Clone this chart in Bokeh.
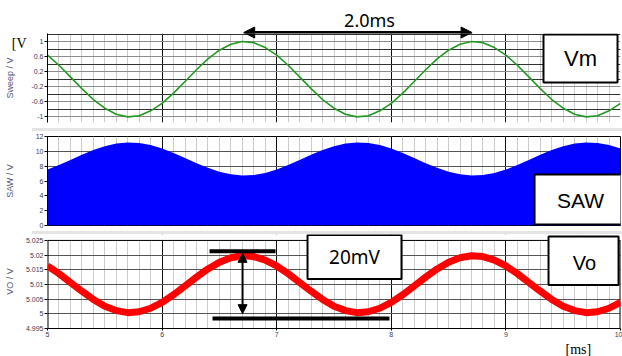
from bokeh.plotting import figure
from bokeh.layouts import column
from bokeh.models import (FixedTicker, CustomJSTickFormatter, Label, Arrow, NormalHead,
                          BoxAnnotation, Range1d, ColumnDataSource, Span, Title, Div,
                          LinearAxis)
from bokeh.embed import file_html
from bokeh.resources import INLINE

# ---------------- data ----------------
time_ms = [5.0, 5.1, 5.2, 5.3, 5.4, 5.5, 5.6, 5.7, 5.8, 5.9,
           6.0, 6.1, 6.2, 6.3, 6.4, 6.5, 6.6, 6.7, 6.8, 6.9,
           7.0, 7.1, 7.2, 7.3, 7.4, 7.5, 7.6, 7.7, 7.8, 7.9,
           8.0, 8.1, 8.2, 8.3, 8.4, 8.5, 8.6, 8.7, 8.8, 8.9,
           9.0, 9.1, 9.2, 9.3, 9.4, 9.5, 9.6, 9.7, 9.8, 9.9,
           10.0]

sweep_v = [0.64, 0.37, 0.06, -0.25, -0.54, -0.77, -0.93, -1.00, -0.97, -0.84,
           -0.64, -0.37, -0.06, 0.25, 0.54, 0.77, 0.93, 1.00, 0.97, 0.84,
           0.64, 0.37, 0.06, -0.25, -0.54, -0.77, -0.93, -1.00, -0.97, -0.84,
           -0.64, -0.37, -0.06, 0.25, 0.54, 0.77, 0.93, 1.00, 0.97, 0.84,
           0.64, 0.37, 0.06, -0.25, -0.54, -0.77, -0.93, -1.00, -0.97, -0.84,
           -0.64]

saw_v = [7.55, 8.15, 8.83, 9.53, 10.17, 10.69, 11.04, 11.20, 11.13, 10.85,
         10.39, 9.79, 9.11, 8.41, 7.77, 7.25, 6.90, 6.74, 6.81, 7.09,
         7.55, 8.15, 8.83, 9.53, 10.17, 10.69, 11.04, 11.20, 11.13, 10.85,
         10.39, 9.79, 9.11, 8.41, 7.77, 7.25, 6.90, 6.74, 6.81, 7.09,
         7.55, 8.15, 8.83, 9.53, 10.17, 10.69, 11.04, 11.20, 11.13, 10.85,
         10.39]

vo_v = [5.0163, 5.0137, 5.0107, 5.0077, 5.0049, 5.0026, 5.0011, 5.0004, 5.0007, 5.0019,
        5.0039, 5.0065, 5.0095, 5.0125, 5.0153, 5.0176, 5.0191, 5.0198, 5.0195, 5.0183,
        5.0163, 5.0137, 5.0107, 5.0077, 5.0049, 5.0026, 5.0011, 5.0004, 5.0007, 5.0019,
        5.0039, 5.0065, 5.0095, 5.0125, 5.0153, 5.0176, 5.0191, 5.0198, 5.0195, 5.0183,
        5.0163, 5.0137, 5.0107, 5.0077, 5.0049, 5.0026, 5.0011, 5.0004, 5.0007, 5.0019,
        5.0039]

x_ticks = [5, 6, 7, 8, 9, 10]
sweep_ticks = [-1, -0.6, -0.2, 0.2, 0.6, 1]
sweep_grid_minor = [-0.8, -0.4, 0, 0.4, 0.8, 1.2]
saw_ticks = [0, 2, 4, 6, 8, 10, 12]
vo_ticks = [4.995, 5.0, 5.005, 5.01, 5.015, 5.02, 5.025]

src = ColumnDataSource(data=dict(t=time_ms, sweep=sweep_v, saw=saw_v, vo=vo_v))

x_minor = [round(5 + 0.1 * i, 1) for i in range(51)]
FMT = "return String(tick)"
TICK_FONT = "Liberation Sans"
TICK_COLOR = "#3a3a55"
AXLAB_COLOR = "#5a5a78"
W = 622
BAND = "#e4e4e4"


def base_fig(h, y0, y1, top, bottom):
    p = figure(width=W, height=h, x_range=Range1d(5, 10), y_range=Range1d(y0, y1),
               output_backend="svg", toolbar_location=None,
               min_border_left=47, min_border_right=2,
               min_border_top=top, min_border_bottom=bottom)
    p.background_fill_color = "white"
    p.border_fill_color = "white"
    return p


def panel(h, top, bottom, y0, y1, yticks, yminor, show_x, ylabel, lab_standoff):
    p = base_fig(h, y0, y1, top, bottom)
    p.outline_line_color = "black"
    p.outline_line_width = 1
    p.outline_line_alpha = 1

    p.xaxis.ticker = FixedTicker(ticks=x_ticks, minor_ticks=x_minor)
    p.yaxis.ticker = FixedTicker(ticks=yticks, minor_ticks=yminor)
    p.xaxis.formatter = CustomJSTickFormatter(code=FMT)
    p.yaxis.formatter = CustomJSTickFormatter(code=FMT)
    for ax in (p.xaxis, p.yaxis):
        ax.axis_line_color = "black"
        ax.major_tick_in = 0
        ax.major_tick_out = 3
        ax.minor_tick_in = 0
        ax.minor_tick_out = 0
        ax.major_tick_line_color = "black"
        ax.major_label_text_font = TICK_FONT
        ax.major_label_text_font_size = "7px"
        ax.major_label_text_color = TICK_COLOR
        ax.major_label_standoff = 1
    p.xaxis.major_tick_out = 2
    p.xaxis.visible = show_x

    p.yaxis.axis_label = ylabel
    p.yaxis.axis_label_text_font = "Liberation Sans"
    p.yaxis.axis_label_text_font_size = "9px"
    p.yaxis.axis_label_text_font_style = "normal"
    p.yaxis.axis_label_text_color = AXLAB_COLOR
    p.yaxis.axis_label_standoff = lab_standoff

    p.xgrid.grid_line_color = "#111111"
    p.xgrid.minor_grid_line_color = "#cccccc"
    p.ygrid.grid_line_color = "#555555"
    p.ygrid.minor_grid_line_color = "#999999"
    return p


def box(p, left, right, top, bottom, fill="white", line="black", lw=2):
    p.add_layout(BoxAnnotation(left=left, right=right, top=top, bottom=bottom,
                               fill_color=fill, fill_alpha=1,
                               line_color=line, line_width=lw, line_alpha=1))


def text(p, x, y, s, size, font="Liberation Sans"):
    p.add_layout(Label(x=x, y=y, text=s, text_font=font, text_font_size=size,
                       text_color="black", text_align="center", text_baseline="middle"))


def dbl_arrow(p, x0, y0, x1, y1, size, lw):
    p.add_layout(Arrow(start=NormalHead(size=size, fill_color="black", line_color="black"),
                       end=NormalHead(size=size, fill_color="black", line_color="black"),
                       x_start=x0, y_start=y0, x_end=x1, y_end=y1,
                       line_width=lw, line_color="black"))


def band():
    return Div(text="", width=W - 32, height=3, margin=(0, 0, 0, 32),
               styles={"background-color": BAND})


# ---------------- strip above the first panel (y in px from the top) ----------------
s0 = figure(width=W, height=33, x_range=Range1d(5, 10), y_range=Range1d(33, 0),
            output_backend="svg", toolbar_location=None,
            x_axis_location=None, y_axis_location=None,
            min_border_left=47, min_border_right=2, min_border_top=0, min_border_bottom=0)
s0.outline_line_color = None
s0.background_fill_color = "white"
s0.border_fill_color = "white"
s0.grid.visible = False
text(s0, 7.81, 19.5, "2.0ms", "18px", font="Noto Sans")
dbl_arrow(s0, 6.712, 32, 8.705, 32, 11, 3)

# ---------------- panel 1: Sweep ----------------
P1_TOP = 1.2133
p1 = panel(95, 0, 6, -1.15, P1_TOP, sweep_ticks, sweep_grid_minor, False, "Sweep / V", 13)
p1.outline_line_color = None
p1.ygrid.grid_line_color = "#8c8c8c"
p1.ygrid.minor_grid_line_color = "#333333"
p1.line("t", "sweep", source=src, line_color="#229922", line_width=1.6)
dbl_arrow(p1, 6.712, 1.2399, 8.705, 1.2399, 11, 3)
box(p1, 9.328, 9.974, 1.19, -0.088)
text(p1, 9.651, 0.5495, "Vm", "22px")
# unit mark "[V" at the top of the axis (a label-only axis)
unit_axis = LinearAxis(ticker=FixedTicker(ticks=[0.94]),
                       formatter=CustomJSTickFormatter(code="return '[V'"),
                       axis_line_color=None, major_tick_line_color=None,
                       minor_tick_line_color=None, major_tick_out=0, major_tick_in=0,
                       minor_tick_out=0, minor_tick_in=0,
                       major_label_standoff=-24,
                       major_label_text_font="Liberation Serif",
                       major_label_text_font_size="14px",
                       major_label_text_color="black")
p1.add_layout(unit_axis, "left")

# ---------------- panel 2: SAW ----------------
p2 = panel(100, 5, 6, 0, 12, saw_ticks, [], False, "SAW / V", 18)
p2.varea(x="t", y1=0, y2="saw", source=src, fill_color="#0000ff", fill_alpha=1)
box(p2, 9.25, 10.1, 6.876, 0.135)
text(p2, 9.651, 3.371, "SAW", "21px")

# ---------------- panel 3: Vo (frame reaches a little above 5.025 for the boxes) ----------------
VO_TOP = 5.02702
p3 = panel(122, 0, 27, 4.995, VO_TOP, vo_ticks, [], True, "VO / V", 8)
p3.outline_line_color = None
p3.yaxis.axis_line_color = None
p3.segment(x0=[5, 10], x1=[5, 10], y0=[4.995, 4.995], y1=[5.025, 5.025],
           line_color="black", line_width=2)
p3.line("t", "vo", source=src, line_color="#ff0000", line_width=7, line_join="round")
p3.segment(x0=[6.414, 6.44], x1=[6.99, 7.984], y0=[5.02129, 4.99837], y1=[5.02129, 4.99837],
           line_color="black", line_width=4)
p3.add_layout(BoxAnnotation(bottom=5.025, fill_color="white", fill_alpha=1, line_color=None))
p3.add_layout(Span(location=5.025, dimension="width", line_color="black", line_width=1))
dbl_arrow(p3, 6.702, 5.02062, 6.702, 5.00006, 9, 2)
box(p3, 7.269, 8.089, 5.02685, 5.01185)
text(p3, 7.679, 5.01927, "20mV", "19px", font="Noto Sans")
box(p3, 9.372, 9.983, 5.02635, 5.00983)
text(p3, 9.686, 5.01725, "Vo", "20px")
p3.add_layout(Title(text="[ms]", align="left", offset=518, standoff=0,
                    text_font="Liberation Serif", text_font_size="14px",
                    text_font_style="normal", text_color="black"), "below")

layout = column(s0, p1, band(), p2, band(), p3, spacing=0)
open("out.html", "w").write(file_html(layout, INLINE))
